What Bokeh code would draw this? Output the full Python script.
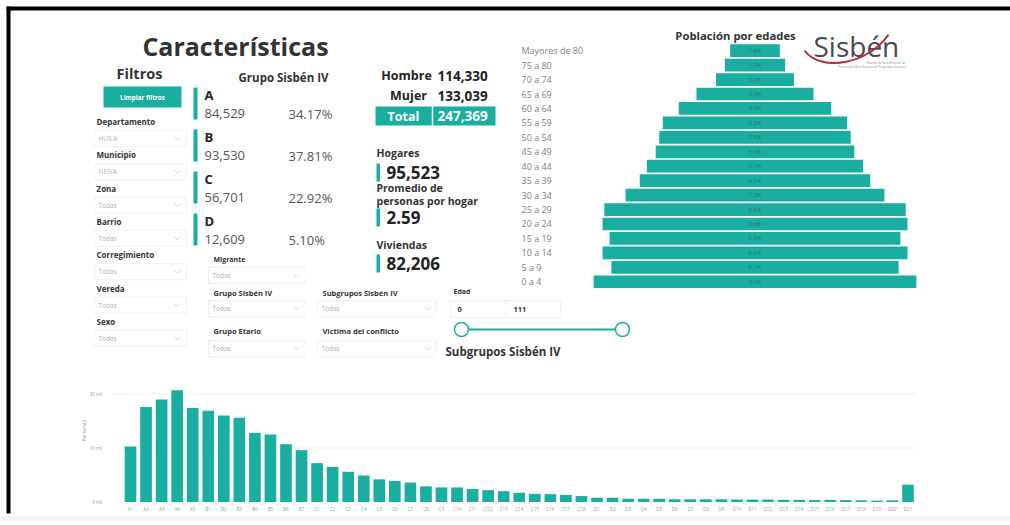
import math
from bokeh.plotting import figure
from bokeh.models import Range1d, ColumnDataSource
from bokeh.core.properties import value
from bokeh.embed import file_html
from bokeh.resources import INLINE

# ---------------- data ----------------
grupo_letras = ["A", "B", "C", "D"]
grupo_personas = [84529, 93530, 56701, 12609]

hombre = 114330
mujer = 133039
total = 247369
hogares = 95523
viviendas = 82206

edades = ["Mayores de 80", "75 a 80", "70 a 74", "65 a 69", "60 a 64", "55 a 59",
          "50 a 54", "45 a 49", "40 a 44", "35 a 39", "30 a 34", "25 a 29",
          "20 a 24", "15 a 19", "10 a 14", "5 a 9", "0 a 4"]
edades_pct = [1.4, 1.7, 2.2, 3.3, 4.3, 5.2, 5.4, 5.6, 6.1, 6.5, 7.3, 8.5,
              8.6, 8.2, 8.6, 8.1, 9.1]

subgrupos = ["A1", "A2", "A3", "A4", "A5",
             "B1", "B2", "B3", "B4", "B5", "B6", "B7",
             "C1", "C2", "C3", "C4", "C5", "C6", "C7", "C8", "C9", "C10", "C11",
             "C12", "C13", "C14", "C15", "C16", "C17", "C18",
             "D1", "D2", "D3", "D4", "D5", "D6", "D7", "D8", "D9", "D10", "D11",
             "D12", "D13", "D14", "D15", "D16", "D17", "D18", "D19", "D20", "D21"]
subgrupos_personas = [10300, 17600, 19000, 20700, 17400,
                      16900, 16000, 15600, 12800, 12500, 10700, 9600,
                      7200, 6500, 5600, 4900, 4200, 3900, 3600, 2900, 2700, 2700, 2400,
                      2200, 2000, 1700, 1500, 1450, 1300, 1100,
                      800, 800, 600, 600, 600, 500, 500, 500, 500, 450, 450,
                      450, 400, 400, 350, 400, 350, 300, 250, 300, 3200]
y_ticks = [0, 10000, 20000]
y_tick_labels = ["0 mil", "10 mil", "20 mil"]

filtros_izq = [("Departamento", "HUILA"), ("Municipio", "NEIVA"), ("Zona", "Todas"),
               ("Barrio", "Todas"), ("Corregimiento", "Todas"), ("Vereda", "Todas"),
               ("Sexo", "Todas")]

# ---------------- style / geometry ----------------
TEAL = "#19ae9f"
FONT = "Open Sans"
W, H = 1010, 521
OX, OY = 0, 0  # page offset of the canvas

# pyramid geometry (page px)
PYR_CX, PYR_PX_PER_PCT = 754.5, 35.46
PYR_Y0, PYR_STEP = 50.2, 14.44
PYR_LABEL_X = 521
# subgroup chart geometry (page px)
SUB_X0, SUB_STEP = 130.0, 15.55
SUB_BASE_Y, SUB_PX_PER_UNIT = 501.5, 5.4 / 1000

p = figure(width=W, height=H, x_range=Range1d(0, W), y_range=Range1d(H, 0),
           min_border=0, x_axis_type=None, y_axis_type=None,
           toolbar_location=None, output_backend="svg", outline_line_color=None,
           border_fill_color="white", background_fill_color="white")

# extra scales for the two charts
pyr_xs = -(PYR_CX - OX) / PYR_PX_PER_PCT
pyr_ye = -(PYR_Y0 - OY) / PYR_STEP
sub_xs = -(SUB_X0 - OX) / SUB_STEP
sub_ys = -(OY + H - SUB_BASE_Y) / SUB_PX_PER_UNIT
p.extra_x_ranges = {
    "pyr": Range1d(pyr_xs, pyr_xs + W / PYR_PX_PER_PCT),
    "sub": Range1d(sub_xs, sub_xs + W / SUB_STEP),
}
p.extra_y_ranges = {
    "pyr": Range1d(pyr_ye + H / PYR_STEP, pyr_ye),
    "sub": Range1d(sub_ys, sub_ys + H / SUB_PX_PER_UNIT),
}


def txt(x, y, s, size, color="#333333", bold=False, align="left", baseline="middle", font=FONT):
    p.text(x=[x - OX], y=[y - OY], text=[s], text_font=value(font),
           text_font_size=f"{size}px", text_color=color,
           text_font_style="bold" if bold else "normal",
           text_align=align, text_baseline=baseline)


def rect(l, r, t, b, fill=None, line=None, lw=1):
    p.quad(left=[l - OX], right=[r - OX], top=[t - OY], bottom=[b - OY],
           fill_color=fill, line_color=line, line_width=lw)


def chevron(cx, cy):
    p.line(x=[cx - 3 - OX, cx - OX, cx + 3 - OX], y=[cy - 1.5 - OY, cy + 1.5 - OY, cy - 1.5 - OY],
           line_color="#cccccc", line_width=0.8)


def dropdown(l, r, cy, label="Todas"):
    rect(l, r, cy - 8, cy + 8, fill=None, line="#f0f0f0", lw=1)
    txt(l + 4, cy, label, 6.5, color="#b0b0b0")
    chevron(r - 9, cy)


# frame lines and bottom strip
p.segment(x0=[0], x1=[W], y0=[518.5], y1=[518.5], line_color="#f2f2f2", line_width=5)
p.segment(x0=[6, 8], x1=[W, 8], y0=[8, 6], y1=[8, 513], line_color="black", line_width=4,
          line_cap="butt")

# title
txt(235, 45, "Características", 25, color="#333333", bold=True, align="center")
txt(139, 73, "Filtros", 14.5, color="#333333", bold=True, align="center")

# Limpiar filtros button
rect(103, 181, 86, 107, fill=TEAL, line=None)
txt(142, 96.5, "Limpiar filtros", 6.3, color="white", bold=True, align="center")

# left filters
for i, (lab, val) in enumerate(filtros_izq):
    ly = 121 + i * 33.3
    txt(96, ly, lab, 8, color="#333333", bold=True)
    dropdown(94, 186, ly + 17, val)

# Grupo Sisbén IV cards
txt(283, 77, "Grupo Sisbén IV", 11.5, color="#333333", bold=True, align="center")
for i, (g, v) in enumerate(zip(grupo_letras, grupo_personas)):
    top = 87 + i * 42
    rect(193, 197, top, top + 32, fill=TEAL, line=None)
    txt(204, top + 7, g, 13, color="#222222", bold=True)
    txt(204, top + 26, f"{v:,}", 13, color="#555555")
    txt(288, top + 26, f"{v / total * 100:.2f}%", 13, color="#555555")

# middle filters
txt(213, 259, "Migrante", 7, bold=True)
dropdown(208, 305, 275)
txt(213, 292, "Grupo Sisbén IV", 7.5, bold=True)
dropdown(208, 305, 308)
txt(213, 330, "Grupo Etario", 7.5, bold=True)
dropdown(208, 305, 348)
txt(322, 292, "Subgrupos Sisbén IV", 7.5, bold=True)
dropdown(317, 436, 308)
txt(322, 330, "Victima del conflicto", 7.5, bold=True)
dropdown(317, 436, 348)

# Edad slider
txt(453, 291, "Edad", 7, bold=True)
rect(450, 505, 300, 317, fill=None, line="#f0f0f0")
rect(505, 560, 300, 317, fill=None, line="#f0f0f0")
txt(457, 308.5, "0", 7.5, color="#333333", bold=True)
txt(513, 308.5, "111", 7.5, color="#333333", bold=True)
p.line(x=[461 - OX, 622 - OX], y=[329 - OY, 329 - OY], line_color=TEAL, line_width=2)
p.scatter(x=[461 - OX, 622 - OX], y=[329 - OY, 329 - OY], size=14, marker="circle",
          fill_color="white", line_color=TEAL, line_width=1.5)
txt(445, 351, "Subgrupos Sisbén IV", 11.5, color="#333333", bold=True)

# Hombre / Mujer / Total
txt(406, 75, "Hombre", 12.5, color="#222222", bold=True, align="center")
txt(437, 75, f"{hombre:,}", 13.5, color="#222222", bold=True)
txt(408, 95, "Mujer", 12.5, color="#222222", bold=True, align="center")
txt(437, 95, f"{mujer:,}", 13.5, color="#222222", bold=True)
rect(375, 495, 106, 125, fill=TEAL, line=None)
p.line(x=[432 - OX, 432 - OX], y=[106 - OY, 125 - OY], line_color="white", line_width=1.5)
txt(403, 115.5, "Total", 12.5, color="white", bold=True, align="center")
txt(437, 115.5, f"{total:,}", 13.5, color="white", bold=True)

# Hogares etc.
txt(376, 152, "Hogares", 10.5, bold=True)
rect(376, 379.5, 163, 181, fill=TEAL, line=None)
txt(386, 171.5, f"{hogares:,}", 17, color="#222222", bold=True)
txt(376, 187, "Promedio de", 10.5, bold=True)
txt(376, 200, "personas por hogar", 10.5, bold=True)
rect(376, 379.5, 208, 226, fill=TEAL, line=None)
txt(386, 217, f"{total / hogares:.2f}", 17, color="#222222", bold=True)
txt(376, 244, "Viviendas", 10.5, bold=True)
rect(376, 379.5, 254, 272, fill=TEAL, line=None)
txt(386, 263, f"{viviendas:,}", 17, color="#222222", bold=True)

# pyramid title and logo
txt(735, 35, "Población por edades", 11.3, color="#333333", bold=True, align="center")
txt(813, 45, "Sisbén", 28, color="#4a4a4a", align="left")
p.bezier(x0=[804 - OX], y0=[50 - OY], x1=[888 - OX], y1=[34 - OY],
         cx0=[820 - OX], cy0=[72 - OY], cx1=[868 - OX], cy1=[64 - OY],
         line_color="#b32a3a", line_width=2)
txt(905, 62, "Sistema de Identificación de", 3, color="#888888", align="right")
txt(905, 66, "Potenciales Beneficiarios de Programas Sociales", 3, color="#888888", align="right")

# ---------------- pyramid ----------------
n_e = len(edades)
pyr_label_x = pyr_xs + (PYR_LABEL_X - OX) / PYR_PX_PER_PCT
psrc = ColumnDataSource(dict(idx=list(range(n_e)), edad=edades,
                             l=[-v / 2 for v in edades_pct], r=[v / 2 for v in edades_pct],
                             lab=[f"{v:.1f}%" for v in edades_pct],
                             zero=[0] * n_e, lx=[pyr_label_x] * n_e))
p.hbar(y="idx", left="l", right="r", height=0.88, source=psrc, fill_color=TEAL, line_color=None,
       x_range_name="pyr", y_range_name="pyr")
p.text(x="zero", y="idx", text="lab", source=psrc, text_font=value(FONT), text_font_size="5.5px",
       text_color="#2f6f68", text_align="center", text_baseline="middle",
       x_range_name="pyr", y_range_name="pyr")
p.text(x="lx", y="idx", text="edad", source=psrc, text_font=value(FONT), text_font_size="9px",
       text_color="#808080", text_align="left", text_baseline="middle",
       x_range_name="pyr", y_range_name="pyr")

# ---------------- subgroups bar chart ----------------
n_s = len(subgrupos)
ssrc = ColumnDataSource(dict(idx=list(range(n_s)), sg=subgrupos, v=subgrupos_personas,
                             ly=[-(508 - SUB_BASE_Y) / SUB_PX_PER_UNIT] * n_s))
# gridlines
p.segment(x0=[-1.0] * 2, x1=[n_s - 0.5] * 2, y0=y_ticks[1:], y1=y_ticks[1:],
          line_color="#eeeeee", line_width=1, x_range_name="sub", y_range_name="sub")
p.vbar(x="idx", top="v", width=0.75, source=ssrc, fill_color=TEAL, line_color=None,
       x_range_name="sub", y_range_name="sub")
p.text(x="idx", y="ly", text="sg", source=ssrc, text_font=value(FONT), text_font_size="4.5px",
       text_color="#9a9a9a", text_align="center", text_baseline="middle",
       x_range_name="sub", y_range_name="sub")
tick_x = -(SUB_X0 - 102) / SUB_STEP
p.text(x=[tick_x] * len(y_ticks), y=y_ticks, text=y_tick_labels, text_font=value(FONT),
       text_font_size="4.5px", text_color="#9a9a9a", text_align="right", text_baseline="middle",
       x_range_name="sub", y_range_name="sub")
p.text(x=[-(SUB_X0 - 83) / SUB_STEP], y=[y_ticks[-1] * 0.66], text=["Personas"],
       text_font=value(FONT), text_font_size="5px", text_color="#9a9a9a", angle=math.pi / 2,
       text_align="center", text_baseline="middle", x_range_name="sub", y_range_name="sub")

open("out.html", "w").write(file_html(p, INLINE))
